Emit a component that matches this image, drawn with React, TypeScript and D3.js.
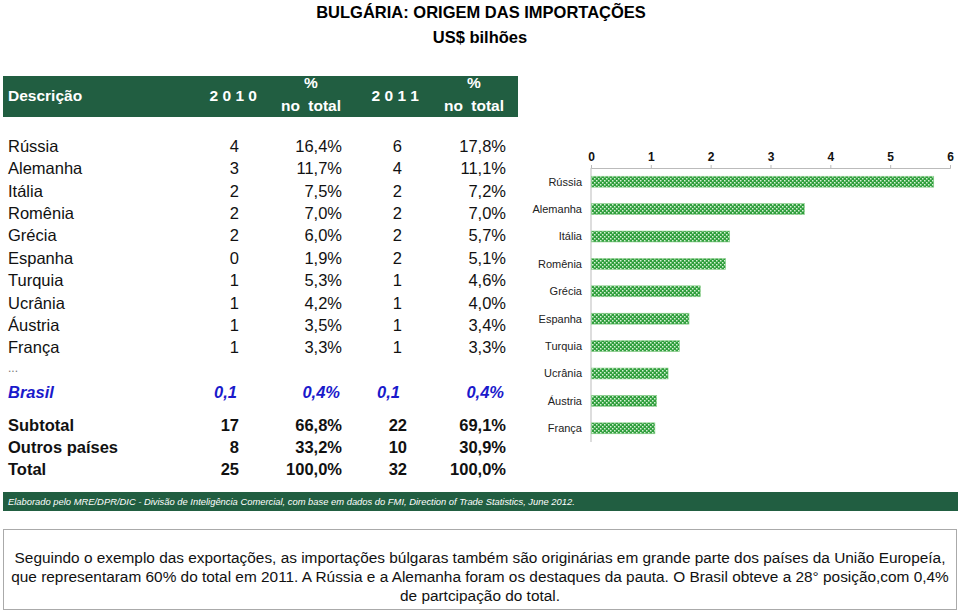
import React, { useEffect, useRef } from "react";
import * as d3 from "d3";

const countries = ["Rússia", "Alemanha", "Itália", "Romênia", "Grécia", "Espanha", "Turquia", "Ucrânia", "Áustria", "França"];
const val2010 = ["4", "3", "2", "2", "2", "0", "1", "1", "1", "1"];
const pct2010 = ["16,4%", "11,7%", "7,5%", "7,0%", "6,0%", "1,9%", "5,3%", "4,2%", "3,5%", "3,3%"];
const val2011 = ["6", "4", "2", "2", "2", "2", "1", "1", "1", "1"];
const pct2011 = ["17,8%", "11,1%", "7,2%", "7,0%", "5,7%", "5,1%", "4,6%", "4,0%", "3,4%", "3,3%"];

const brasilRow = ["Brasil", "0,1", "0,4%", "0,1", "0,4%"];
const totalLabels = ["Subtotal", "Outros países", "Total"];
const total2010 = ["17", "8", "25"];
const totalPct2010 = ["66,8%", "33,2%", "100,0%"];
const total2011 = ["22", "10", "32"];
const totalPct2011 = ["69,1%", "30,9%", "100,0%"];

// 2011 imports, US$ billions (bar chart)
const chartValues = [5.72, 3.56, 2.31, 2.24, 1.82, 1.63, 1.47, 1.28, 1.09, 1.06];
const chartTicks = [0, 1, 2, 3, 4, 5, 6];

const noteLines = [
  "Seguindo o exemplo das exportações, as importações búlgaras também são originárias em grande parte dos países da União Europeía,",
  "que representaram 60% do total em 2011. A Rússia e a Alemanha foram os destaques da pauta. O Brasil obteve a 28° posição,com 0,4%",
  "de partcipação do total.",
];

const FONT = "'Liberation Sans', Arial, sans-serif";
const GREEN = "#215e41";

const App = () => {
  const ref = useRef<SVGSVGElement | null>(null);

  useEffect(() => {
    document.body.style.margin = "0";
    drawChart();
  }, []);

  const drawChart = () => {
    const svg = d3.select(ref.current);
    svg.selectAll("*").remove();
    svg.attr("font-family", FONT);

    // pattern for bars
    const defs = svg.append("defs");
    const pat = defs.append("pattern")
      .attr("id", "dots")
      .attr("width", 4).attr("height", 4)
      .attr("patternUnits", "userSpaceOnUse");
    pat.append("rect").attr("width", 4).attr("height", 4).attr("fill", "#2f9e3c");
    pat.append("rect").attr("x", 0).attr("y", 0).attr("width", 1.5).attr("height", 1.5).attr("fill", "#d6f2d6");
    pat.append("rect").attr("x", 2).attr("y", 2).attr("width", 1.5).attr("height", 1.5).attr("fill", "#d6f2d6");

    // titles
    svg.append("text").attr("x", 481).attr("y", 12).attr("dy", "0.35em")
      .attr("text-anchor", "middle").attr("font-weight", "bold").attr("font-size", 16.5)
      .text("BULGÁRIA: ORIGEM DAS IMPORTAÇÕES");
    svg.append("text").attr("x", 480).attr("y", 37).attr("dy", "0.35em")
      .attr("text-anchor", "middle").attr("font-weight", "bold").attr("font-size", 16.5)
      .text("US$ bilhões");

    // table header
    svg.append("rect").attr("x", 3).attr("y", 76).attr("width", 515).attr("height", 41).attr("fill", GREEN);
    const head = svg.append("g").attr("fill", "white").attr("font-weight", "bold").attr("font-size", 15.5);
    head.append("text").attr("x", 8).attr("y", 96).attr("dy", "0.35em").text("Descrição");
    head.append("text").attr("x", 257).attr("y", 96).attr("dy", "0.35em").attr("text-anchor", "end").text("2 0 1 0");
    head.append("text").attr("x", 419).attr("y", 96).attr("dy", "0.35em").attr("text-anchor", "end").text("2 0 1 1");
    [311, 474].forEach(cx => {
      head.append("text").attr("x", cx).attr("y", 83).attr("dy", "0.35em").attr("text-anchor", "middle").text("%");
      head.append("text").attr("x", cx).attr("y", 106).attr("dy", "0.35em").attr("text-anchor", "middle")
        .attr("word-spacing", 4).text("no total");
    });

    // table rows
    const rowY = d3.scaleLinear().domain([0, 1]).range([146, 168.4]);
    const colX = [8, 239, 342, 402, 506];
    const body = svg.append("g").attr("font-size", 16.5).attr("fill", "#111");

    countries.forEach((c, i) => {
      const cells = [c, val2010[i], pct2010[i], val2011[i], pct2011[i]];
      cells.forEach((t, j) => {
        body.append("text")
          .attr("x", colX[j]).attr("y", rowY(i)).attr("dy", "0.35em")
          .attr("text-anchor", j === 0 ? "start" : "end")
          .text(t);
      });
    });

    body.append("text").attr("x", 8).attr("y", rowY(10) - 2).attr("dy", "0.35em")
      .attr("font-size", 12).attr("fill", "#777").text("...");

    brasilRow.forEach((t, j) => {
      body.append("text")
        .attr("x", colX[j] - (j === 0 ? 0 : 2)).attr("y", rowY(11)).attr("dy", "0.35em")
        .attr("text-anchor", j === 0 ? "start" : "end")
        .attr("font-weight", "bold").attr("font-style", "italic").attr("fill", "#1a1acb")
        .text(t);
    });

    const totY = d3.scaleLinear().domain([0, 1]).range([425, 447]);
    totalLabels.forEach((c, i) => {
      const cells = [c, total2010[i], totalPct2010[i], total2011[i], totalPct2011[i]];
      cells.forEach((t, j) => {
        body.append("text")
          .attr("x", colX[j] + (j === 3 ? 5 : 0)).attr("y", totY(i)).attr("dy", "0.35em")
          .attr("text-anchor", j === 0 ? "start" : "end")
          .attr("font-weight", "bold")
          .text(t);
      });
    });

    // bar chart
    const x = d3.scaleLinear().domain([0, 6]).range([591, 950]);
    const y = d3.scaleBand().domain(countries).range([168, 442]).paddingInner(0.6).paddingOuter(0.3);

    const axis = svg.append("g")
      .attr("transform", "translate(0,168)")
      .call(d3.axisTop(x).tickValues(chartTicks).tickSize(3).tickPadding(4).tickFormat(d3.format("d")));
    axis.select(".domain").attr("stroke", "#bbb");
    axis.selectAll(".tick line").attr("stroke", "#bbb");
    axis.selectAll(".tick text").attr("font-family", FONT).attr("font-size", 12)
      .attr("font-weight", "bold").attr("fill", "#111");

    svg.append("line").attr("x1", 591).attr("x2", 591).attr("y1", 168).attr("y2", 442)
      .attr("stroke", "#bbb");

    svg.append("g")
      .selectAll("rect")
      .data(chartValues)
      .enter()
      .append("rect")
      .attr("x", x(0) + 0.5)
      .attr("y", (d, i) => y(countries[i])!)
      .attr("width", d => x(d) - x(0))
      .attr("height", y.bandwidth())
      .attr("fill", "url(#dots)")
      .attr("stroke", "#8fd08f")
      .attr("stroke-width", 0.6);

    svg.append("g")
      .selectAll("text")
      .data(countries)
      .enter()
      .append("text")
      .attr("x", 582)
      .attr("y", d => y(d)! + y.bandwidth() / 2)
      .attr("dy", "0.35em")
      .attr("text-anchor", "end")
      .attr("font-size", 11)
      .attr("fill", "#222")
      .text(d => d);

    // source bar
    svg.append("rect").attr("x", 3).attr("y", 492).attr("width", 955).attr("height", 19).attr("fill", GREEN);
    svg.append("text").attr("x", 8).attr("y", 501.5).attr("dy", "0.35em")
      .attr("fill", "white").attr("font-style", "italic").attr("font-size", 9.4)
      .text("Elaborado pelo MRE/DPR/DIC - Divisão de Inteligência Comercial, com base em dados do FMI, Direction of Trade Statistics, June 2012.");

    // note box
    svg.append("rect").attr("x", 3.5).attr("y", 529.5).attr("width", 953).attr("height", 80)
      .attr("fill", "white").attr("stroke", "#aaa");
    noteLines.forEach((t, i) => {
      svg.append("text").attr("x", 480).attr("y", 558 + i * 19).attr("dy", "0.35em")
        .attr("text-anchor", "middle").attr("font-size", 15.4).attr("fill", "#111")
        .text(t);
    });
  };

  return <svg ref={ref} width={960} height={612} style={{ display: "block" }} />;
};

export default App;
